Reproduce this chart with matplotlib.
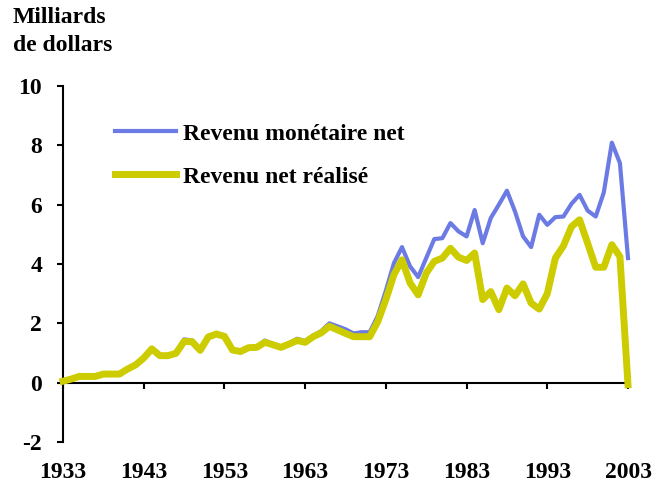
import matplotlib
matplotlib.use("Agg")
import matplotlib.pyplot as plt
import numpy as np

years = list(range(1933, 2004))

revenu_net_realise = [
    0.05, 0.12, 0.21, 0.21, 0.21, 0.29, 0.29, 0.29, 0.46, 0.60,
    0.83, 1.14, 0.91, 0.91, 0.99, 1.39, 1.38, 1.09, 1.54, 1.64,
    1.56, 1.10, 1.05, 1.18, 1.19, 1.36, 1.28, 1.19, 1.30, 1.42,
    1.36, 1.55, 1.68, 1.90, 1.78, 1.66, 1.55, 1.55, 1.55, 2.06,
    2.80, 3.64, 4.14, 3.36, 2.96, 3.69, 4.09, 4.20, 4.53, 4.23,
    4.12, 4.37, 2.80, 3.07, 2.46, 3.19, 2.93, 3.33, 2.68, 2.48,
    3.00, 4.20, 4.61, 5.26, 5.49, 4.70, 3.89, 3.89, 4.65, 4.25,
    -0.07,
]

revenu_monetaire_net = [
    0.05, 0.12, 0.21, 0.21, 0.21, 0.29, 0.29, 0.29, 0.46, 0.60,
    0.83, 1.14, 0.91, 0.91, 0.99, 1.46, 1.42, 1.09, 1.54, 1.64,
    1.56, 1.10, 1.05, 1.18, 1.19, 1.42, 1.30, 1.22, 1.32, 1.48,
    1.40, 1.58, 1.74, 2.00, 1.90, 1.80, 1.66, 1.70, 1.70, 2.25,
    3.10, 4.03, 4.57, 3.92, 3.56, 4.20, 4.84, 4.87, 5.38, 5.10,
    4.93, 5.82, 4.70, 5.55, 6.00, 6.47, 5.77, 4.93, 4.57, 5.66,
    5.32, 5.58, 5.60, 6.03, 6.33, 5.80, 5.60, 6.41, 8.09, 7.40,
    4.20,
]

x_ticks = [1933, 1943, 1953, 1963, 1973, 1983, 1993, 2003]
y_ticks = [-2, 0, 2, 4, 6, 8, 10]
y_tick_labels = ["-2", "0", "2", "4", "6", "8", "10"]

label_monetaire = "Revenu monétaire net"
label_realise = "Revenu net réalisé"
unit_title = "Milliards\nde dollars"

BLUE = "#6b7be3"
YELLOW = "#cccc00"
FONT = "Liberation Serif"

plt.rcParams["font.family"] = [FONT, "DejaVu Serif"]
plt.rcParams["axes.unicode_minus"] = False

fig = plt.figure(figsize=(6.7, 4.9), dpi=100)
ax = fig.add_axes([63 / 670, 48 / 490, 565 / 670, 356 / 490])

ax.plot(years, revenu_monetaire_net, color=BLUE, lw=3.0, label=label_monetaire,
        solid_joinstyle="round", zorder=2, clip_on=False)
ax.plot(years, revenu_net_realise, color=YELLOW, lw=5.0, label=label_realise,
        solid_joinstyle="round", zorder=3, clip_on=False)

ax.set_xlim(1933, 2003)
ax.set_ylim(-2, 10)

ax.spines["top"].set_visible(False)
ax.spines["right"].set_visible(False)
ax.spines["bottom"].set_position(("data", 0))
ax.spines["bottom"].set_linewidth(1.5)
ax.spines["left"].set_linewidth(1.5)
ax.spines["bottom"].set_zorder(1)

ax.set_yticks(y_ticks)
ax.set_yticklabels(y_tick_labels, fontsize=17, fontweight="bold")
ax.set_xticks(x_ticks)
ax.set_xticklabels([str(t) for t in x_ticks], fontsize=17, fontweight="bold")
ax.tick_params(axis="y", direction="out", length=4, width=1.5, pad=11)
ax.tick_params(axis="x", direction="out", length=4.5, width=1.5, pad=52.5)

leg = ax.legend(loc="upper left", bbox_to_anchor=(0.075, 0.922), frameon=False,
                prop={"family": FONT, "weight": "bold", "size": 17},
                handlelength=2.6, handletextpad=0.3, labelspacing=0.9,
                borderaxespad=0)

fig.text(13 / 670, 1 - 7 / 490, unit_title, ha="left", va="top",
         fontsize=17, fontweight="bold", linespacing=1.45)

fig.savefig("out.png", dpi=100)
